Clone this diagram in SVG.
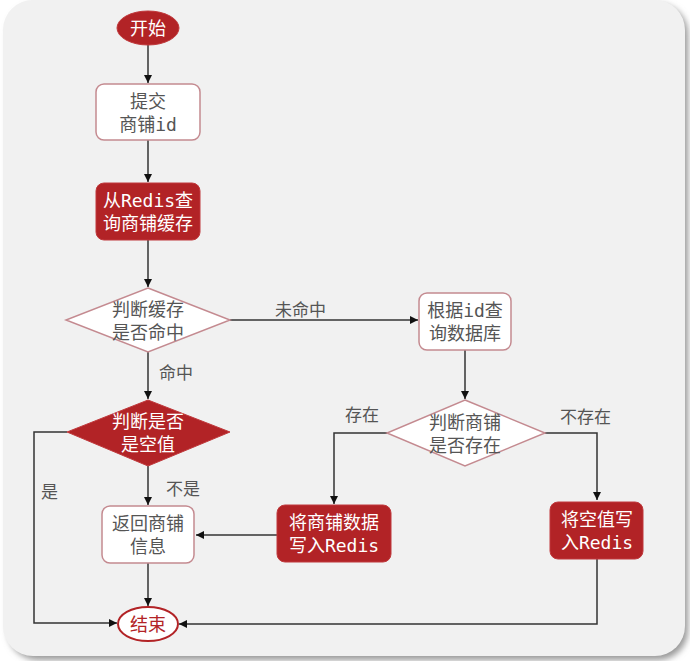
<svg xmlns="http://www.w3.org/2000/svg" width="690" height="661" viewBox="0 0 690 661">
<defs>
<marker id="arr" viewBox="0 0 10 10" refX="10" refY="5" markerWidth="8" markerHeight="8" markerUnits="userSpaceOnUse" orient="auto"><path d="M0,0 L10,5 L0,10 z" fill="#111"/></marker>
<filter id="sh" x="-5%" y="-5%" width="110%" height="110%"><feGaussianBlur stdDeviation="3"/></filter>
</defs>
<style>
.t{font-family:"DejaVu Sans Mono","Noto Sans CJK SC",monospace;font-size:18px;text-anchor:middle;dominant-baseline:central}
.g{fill:#555}
.w{fill:#fff}
.lb{font-family:"Noto Sans CJK SC",sans-serif;font-size:17px;fill:#555;dominant-baseline:central}
.wn{fill:#fff;stroke:#c48a90;stroke-width:1.5}
.rd{fill:#b22326;stroke:#c0393c;stroke-width:1}
.c{fill:none;stroke:#333;stroke-width:1.5;marker-end:url(#arr)}
</style>
<rect width="690" height="661" fill="#fff"/>
<rect x="8" y="4" width="680" height="656" rx="30" fill="#999" filter="url(#sh)"/>
<rect x="3" y="0" width="682" height="656" rx="30" fill="#f1f1f1"/>
<g id="connectors">
<path class="c" d="M148,45 V83"/>
<path class="c" d="M148,140 V182"/>
<path class="c" d="M148,240 V287"/>
<path class="c" d="M230,320 H418"/>
<path class="c" d="M148,352 V399"/>
<path class="c" d="M465,350 V399"/>
<path class="c" d="M387,433 H334 V504"/>
<path class="c" d="M545,433 H597 V500"/>
<path class="c" d="M148,466 V505"/>
<path class="c" d="M277,535 H196"/>
<path class="c" d="M67,432 H34 V623 H117"/>
<path class="c" d="M148,563 V606"/>
<path class="c" d="M597,559 V624 H179"/>
<text class="lb" x="275" y="308">未命中</text>
<text class="lb" x="159" y="371">命中</text>
<text class="lb" x="166" y="487">不是</text>
<text class="lb" x="41" y="490">是</text>
<text class="lb" x="345" y="413">存在</text>
<text class="lb" x="560" y="415">不存在</text>
</g>
<g id="start"><ellipse class="rd" cx="148" cy="28" rx="31" ry="17"/><text class="t w" x="148" y="28">开始</text></g>
<g id="submit"><rect class="wn" x="96" y="84" width="104" height="56" rx="8"/><text class="t g" x="148" y="101">提交</text><text class="t g" x="148" y="124">商铺id</text></g>
<g id="query-redis"><rect class="rd" x="96" y="183" width="104" height="57" rx="8"/><text class="t w" x="148" y="200">从Redis查</text><text class="t w" x="148" y="223">询商铺缓存</text></g>
<g id="hit"><polygon class="wn" points="148,288 230,320 148,352 66,320"/><text class="t g" x="148" y="309">判断缓存</text><text class="t g" x="148" y="332">是否命中</text></g>
<g id="query-db"><rect class="wn" x="419" y="293" width="92" height="57" rx="8"/><text class="t g" x="465" y="310">根据id查</text><text class="t g" x="465" y="333">询数据库</text></g>
<g id="exists"><polygon class="wn" points="465,400 545,433 465,466 387,433"/><text class="t g" x="465" y="422">判断商铺</text><text class="t g" x="465" y="445">是否存在</text></g>
<g id="null-check"><polygon class="rd" points="148,400 230,432 148,466 67,432"/><text class="t w" x="148" y="421">判断是否</text><text class="t w" x="148" y="444">是空值</text></g>
<g id="write-data"><rect class="rd" x="277" y="505" width="114" height="57" rx="8"/><text class="t w" x="334" y="522">将商铺数据</text><text class="t w" x="334" y="545">写入Redis</text></g>
<g id="write-null"><rect class="rd" x="550" y="502" width="93" height="57" rx="8"/><text class="t w" x="597" y="519">将空值写</text><text class="t w" x="597" y="542">入Redis</text></g>
<g id="return"><rect class="wn" x="102" y="506" width="92" height="57" rx="8"/><text class="t g" x="148" y="523">返回商铺</text><text class="t g" x="148" y="546">信息</text></g>
<g id="end"><ellipse cx="148" cy="624" rx="30" ry="17" fill="#fff" stroke="#b22326" stroke-width="2"/><text class="t" x="148" y="624" fill="#b22326">结束</text></g>
</svg>
